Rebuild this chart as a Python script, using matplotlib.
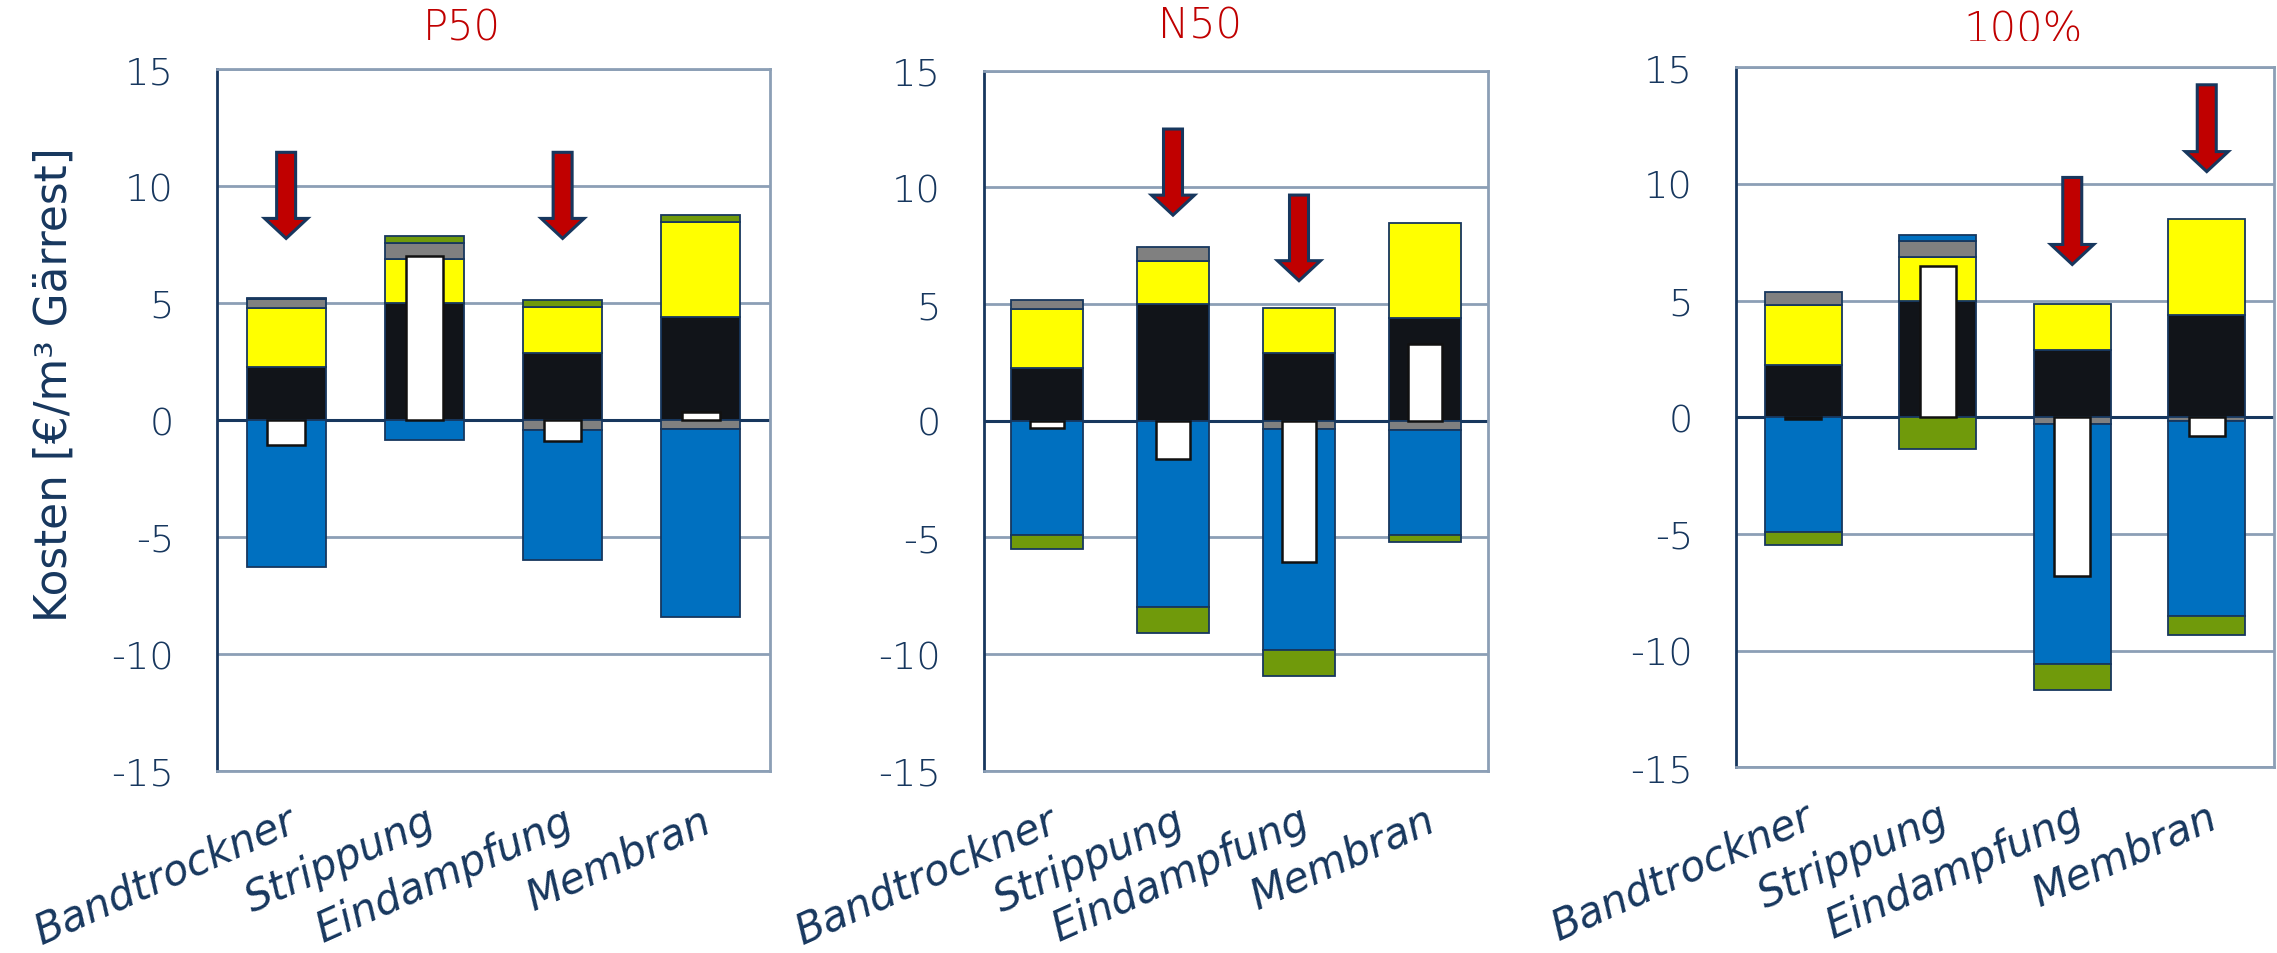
import matplotlib
matplotlib.use('Agg')
import matplotlib.pyplot as plt
from matplotlib.transforms import Bbox
import numpy as np

# ---------------- data ----------------
categories = ['Bandtrockner', 'Strippung', 'Eindampfung', 'Membran']
panel_titles = ['P50', 'N50', '100%']
yticks = [-15, -10, -5, 0, 5, 10, 15]
ytick_labels = ['-15', '-10', '-5', '0', '5', '10', '15']
ylabel = 'Kosten [€/m³ Gärrest]'

# P50 – stacked components (€/m³)
p50_black     = [2.25, 5.00, 2.86, 4.40]
p50_yellow    = [2.55, 1.86, 1.97, 4.07]
p50_gray_pos  = [0.35, 0.72, 0.00, 0.00]
p50_blue_pos  = [0.08, 0.00, 0.00, 0.00]
p50_green_pos = [0.00, 0.27, 0.29, 0.28]
p50_gray_neg  = [0.00, 0.00, -0.42, -0.38]
p50_blue_neg  = [-6.29, -0.86, -5.58, -8.02]
p50_green_neg = [0.00, 0.00, 0.00, 0.00]
p50_net       = [-1.06, 6.99, -0.88, 0.33]
p50_arrow_idx = [0, 2]
p50_arrow_top = [11.44, 11.44]
p50_arrow_tip = [7.76, 7.76]

# N50
n50_black     = [2.24, 4.99, 2.89, 4.39]
n50_yellow    = [2.55, 1.85, 1.95, 4.08]
n50_gray_pos  = [0.37, 0.60, 0.00, 0.00]
n50_blue_pos  = [0.00, 0.00, 0.00, 0.00]
n50_green_pos = [0.00, 0.00, 0.00, 0.00]
n50_gray_neg  = [0.00, 0.00, -0.36, -0.40]
n50_blue_neg  = [-4.90, -7.97, -9.45, -4.50]
n50_green_neg = [-0.60, -1.14, -1.12, -0.29]
n50_net       = [-0.33, -1.65, -6.07, 3.28]
n50_arrow_idx = [1, 2]
n50_arrow_top = [12.50, 9.67]
n50_arrow_tip = [8.81, 6.00]

# 100%
f100_black     = [2.23, 5.00, 2.88, 4.40]
f100_yellow    = [2.59, 1.87, 1.98, 4.11]
f100_gray_pos  = [0.57, 0.68, 0.00, 0.00]
f100_blue_pos  = [0.00, 0.26, 0.00, 0.00]
f100_green_pos = [0.00, 0.00, 0.00, 0.00]
f100_gray_neg  = [0.00, 0.00, -0.28, -0.17]
f100_blue_neg  = [-4.90, 0.00, -10.30, -8.33]
f100_green_neg = [-0.57, -1.34, -1.12, -0.85]
f100_net       = [-0.07, 6.47, -6.80, -0.81]
f100_arrow_idx = [2, 3]
f100_arrow_top = [10.28, 14.25]
f100_arrow_tip = [6.55, 10.53]

panels = [
    dict(pos=[p50_black, p50_yellow, p50_gray_pos, p50_blue_pos, p50_green_pos],
         neg=[p50_gray_neg, p50_blue_neg, p50_green_neg], net=p50_net,
         aidx=p50_arrow_idx, atop=p50_arrow_top, atip=p50_arrow_tip),
    dict(pos=[n50_black, n50_yellow, n50_gray_pos, n50_blue_pos, n50_green_pos],
         neg=[n50_gray_neg, n50_blue_neg, n50_green_neg], net=n50_net,
         aidx=n50_arrow_idx, atop=n50_arrow_top, atip=n50_arrow_tip),
    dict(pos=[f100_black, f100_yellow, f100_gray_pos, f100_blue_pos, f100_green_pos],
         neg=[f100_gray_neg, f100_blue_neg, f100_green_neg], net=f100_net,
         aidx=f100_arrow_idx, atop=f100_arrow_top, atip=f100_arrow_tip),
]

# ---------------- style ----------------
C_BLACK = '#111419'
C_YELLOW = '#FFFF00'
C_GRAY = '#808080'
C_BLUE = '#0070C0'
C_GREEN = '#709A0B'
C_RED = '#C00000'
NAVY = '#17375E'
GRID = '#8C9FB6'
TXT = '#17375E'
pos_colors = [C_BLACK, C_YELLOW, C_GRAY, C_BLUE, C_GREEN]
neg_colors = [C_GRAY, C_BLUE, C_GREEN]

W, H = 2277, 954
DPI = 100
fig = plt.figure(figsize=(W / DPI, H / DPI), dpi=DPI)

# axes boxes in pixels: (left, top, right, bottom)
boxes = [(217, 70, 770, 772), (984, 71.7, 1488, 771.7), (1736, 68.3, 2274, 768.3)]
title_pos = [(462, 28), (1200, 26), (2023, 30)]

BAR_W = 0.57
NET_W = 0.27
THIN_FONT = dict(family=['DejaVu Sans'], weight=200)

for k, (pan, box) in enumerate(zip(panels, boxes)):
    l, t, r, b = box
    ax = fig.add_axes([l / W, 1 - b / H, (r - l) / W, (b - t) / H])
    x = np.arange(len(categories))
    ax.set_xlim(-0.5, 3.5)
    ax.set_ylim(-15, 15)

    # grid & frame
    ax.set_yticks(yticks)
    ax.yaxis.grid(True, color=GRID, lw=2.0, zorder=0)
    ax.set_axisbelow(True)
    for s in ['top', 'right', 'bottom']:
        ax.spines[s].set_color(GRID)
        ax.spines[s].set_linewidth(2.0)
    ax.spines['left'].set_color(NAVY)
    ax.spines['left'].set_linewidth(2.0)
    ax.axhline(0, color=NAVY, lw=2.2, zorder=1)

    # positive stacks
    bottom = np.zeros(len(categories))
    for vals, col in zip(pan['pos'], pos_colors):
        v = np.array(vals, dtype=float)
        m = v != 0
        ax.bar(x[m], v[m], BAR_W, bottom=bottom[m], color=col,
               edgecolor=NAVY, linewidth=1.3, zorder=2)
        bottom = bottom + v
    # negative stacks
    bottom = np.zeros(len(categories))
    for vals, col in zip(pan['neg'], neg_colors):
        v = np.array(vals, dtype=float)
        m = v != 0
        ax.bar(x[m], v[m], BAR_W, bottom=bottom[m], color=col,
               edgecolor=NAVY, linewidth=1.3, zorder=2)
        bottom = bottom + v
    # net boxes
    ax.bar(x, pan['net'], NET_W, color='white', edgecolor='#111111',
           linewidth=1.8, zorder=4)

    # arrows (sizes given in pixels, converted to data units)
    ppx = (r - l) / 4.0           # px per x unit
    ppy = (b - t) / 30.0          # px per y unit
    for i, yt, yp in zip(pan['aidx'], pan['atop'], pan['atip']):
        ax.arrow(x[i], yt, 0, yp - yt, width=19 / ppx, head_width=43 / ppx,
                 head_length=20 / ppy, length_includes_head=True,
                 fc=C_RED, ec=NAVY, lw=2.2, zorder=5)

    # ticks
    ax.tick_params(axis='both', length=0)
    ax.set_yticklabels(ytick_labels, fontsize=27.5, color=TXT, **THIN_FONT)
    ax.tick_params(axis='y', pad=31)
    ax.set_xticks(x)
    ax.set_xticklabels(categories, fontsize=30, color=TXT, fontstyle='italic',
                       family='DejaVu Sans', rotation=24, ha='right', va='top',
                       rotation_mode='anchor')
    ax.tick_params(axis='x', pad=20)

    # title
    tx, ty = title_pos[k]
    tt = fig.text(tx / W, 1 - ty / H, panel_titles[k], ha='center', va='center',
                  fontsize=30, color=C_RED, **THIN_FONT)
    if k == 2:
        tt.set_clip_box(Bbox([[1800, H - 41.7], [W, H]]))
        tt.set_clip_on(True)

fig.text(54 / W, 1 - 385 / H, ylabel, rotation=90, ha='center', va='center',
         fontsize=31.5, color=TXT, family='DejaVu Sans')

fig.savefig('out.png', dpi=DPI, facecolor='white')
